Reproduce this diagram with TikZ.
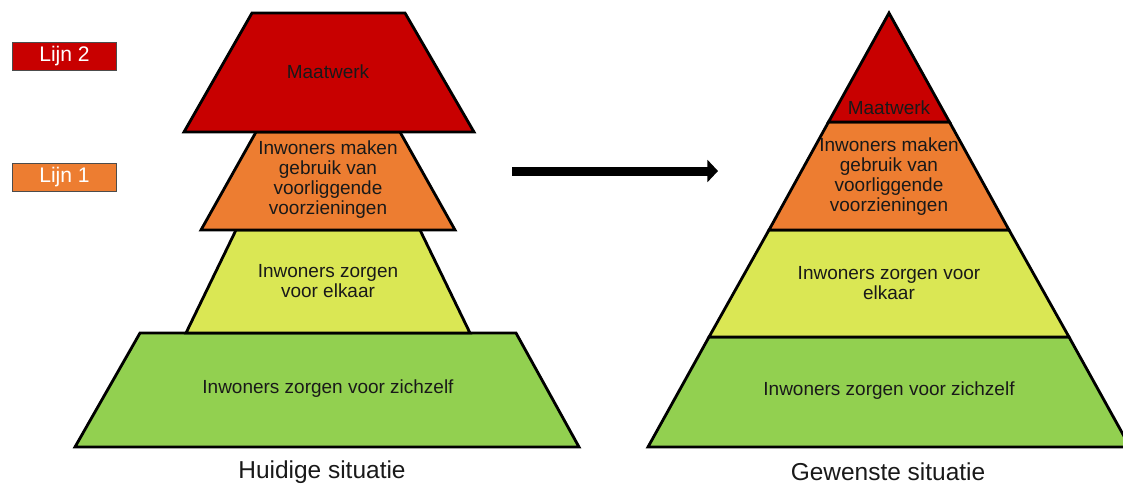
\documentclass[tikz,border=0pt]{standalone}
\usepackage{fontspec}
\setmainfont{Liberation Sans}
\usetikzlibrary{arrows.meta}

\definecolor{lijnred}{RGB}{200,0,0}
\definecolor{lijnorange}{RGB}{237,125,49}
\definecolor{layeryellow}{RGB}{218,231,84}
\definecolor{layergreen}{RGB}{146,208,80}
\definecolor{textdark}{RGB}{25,25,25}

\tikzset{
  layer/.style = {draw=black, line width=2pt},
  layertext/.style = {align=center, text=textdark, inner sep=0pt, font=\fontsize{13.5}{14.2}\selectfont},
  lijnbox/.style = {draw=black!70, line width=0.6pt, minimum width=74pt, minimum height=20pt, inner sep=0pt, text=white, font=\fontsize{15}{17}\selectfont},
  captiontext/.style = {text=textdark, inner sep=0pt, font=\fontsize{17.4}{20}\selectfont},
  bigarrow/.style = {line width=6.4pt, -{Triangle[length=7.5pt, width=15.5pt]}}
}

\begin{document}
\begin{tikzpicture}[x=0.025cm, y=-0.025cm]
    % Canvas
    \useasboundingbox (0,0) rectangle (1123,486);

    % Draw current pyramid, bottom layer first
    \draw[layer, fill=layergreen] (140,333) -- (516,333) -- (579,447) -- (75,447) -- cycle;
    \draw[layer, fill=layeryellow] (236,230) -- (420,230) -- (470,333) -- (186,333) -- cycle;
    \draw[layer, fill=lijnorange] (256,132) -- (400,132) -- (455,230) -- (201,230) -- cycle;
    \draw[layer, fill=lijnred] (252,13) -- (405,13) -- (474,132) -- (184,132) -- cycle;

    % Texts of the current pyramid
    \node[layertext] (curMaat) at (328,72) {Maatwerk};
    \node[layertext] (curVoorz) at (328,180) {Inwoners maken\\gebruik van\\voorliggende\\voorzieningen};
    \node[layertext] (curElkaar) at (328,281) {Inwoners zorgen\\voor elkaar};
    \node[layertext] (curZelf) at (328,389) {Inwoners zorgen voor zichzelf};
    \node[captiontext] (curCaption) at (322,472) {Huidige situatie};

    % Line labels
    \node[lijnbox, fill=lijnred] (lijn2) at (64.5,56) {Lijn 2};
    \node[lijnbox, fill=lijnorange] (lijn1) at (64.5,177.5) {Lijn 1};

    % Draw arrow between the pyramids
    \coordinate (arrowStart) at (512,171);
    \coordinate (arrowEnd) at (718,171);
    \draw[bigarrow] (arrowStart) -- (arrowEnd);

    % Draw wanted pyramid, bottom layer first
    \coordinate (apex) at (889,13);
    \draw[layer, fill=layergreen] (709,337) -- (1069,337) -- (1130,447) -- (648,447) -- cycle;
    \draw[layer, fill=layeryellow] (769,230) -- (1009,230) -- (1069,337) -- (709,337) -- cycle;
    \draw[layer, fill=lijnorange] (828.5,122) -- (949.5,122) -- (1009,230) -- (769,230) -- cycle;
    \draw[layer, fill=lijnred] (apex) -- (949.5,122) -- (828.5,122) -- cycle;

    % Texts of the wanted pyramid
    \node[layertext] (newMaat) at (889,108) {Maatwerk};
    \node[layertext] (newVoorz) at (889,177) {Inwoners maken\\gebruik van\\voorliggende\\voorzieningen};
    \node[layertext] (newElkaar) at (889,283) {Inwoners zorgen voor\\elkaar};
    \node[layertext] (newZelf) at (889,391) {Inwoners zorgen voor zichzelf};
    \node[captiontext] (newCaption) at (888,472) {Gewenste situatie};
\end{tikzpicture}
\end{document}
